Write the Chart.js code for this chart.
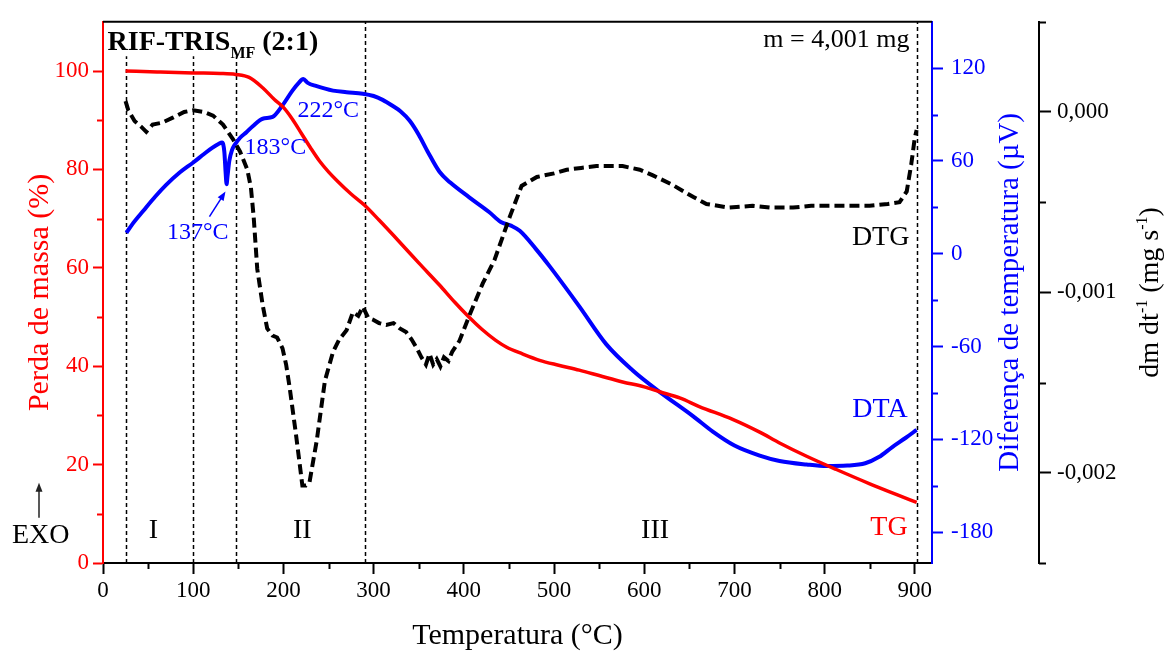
<!DOCTYPE html>
<html lang="pt">
<head>
<meta charset="utf-8">
<title>RIF-TRIS MF (2:1) - TG / DTA / DTG</title>
<script src="https://cdn.jsdelivr.net/npm/chart.js@4.4.1/dist/chart.umd.min.js"></script>
<style>
    html, body { margin: 0; padding: 0; background: #ffffff; }
    #thermoChart { display: block; }
</style>
</head>
<body>
<canvas id="thermoChart" width="1165" height="651"></canvas>
<script>
// TG curve: mass (%) against temperature (°C)
const tgTemp = [25, 60, 100, 130, 147, 162, 177, 190, 200, 210, 220, 230, 240, 250, 260, 275, 290, 306, 330, 350,
    373, 390, 404, 420, 435, 447, 465, 484, 505, 528, 550, 576, 600, 617, 640, 661, 698, 728, 750, 780,
    813, 850, 880, 902];
const tgMass = [100, 99.8, 99.6, 99.5, 99.3, 98.7, 96.6, 94.2, 92.6, 90.2, 87.3, 84.4, 81.7, 79.5, 77.6, 75, 72.7, 69.7, 65, 61,
    56.5, 53, 50.3, 47.5, 45.3, 43.9, 42.5, 41.2, 40.2, 39.2, 38.1, 36.8, 35.8, 34.8, 33.5, 31.8, 29.2, 26.6, 24.4, 21.7,
    19, 16.1, 13.9, 12.3];

// DTA curve: temperature difference (µV)
const dtaTemp = [26, 33, 45, 58, 70, 85, 100, 112, 121, 128, 132, 134.5, 136, 137, 138, 140, 143, 146, 152, 159,
    166, 177, 188, 199, 210, 217, 222, 227, 236, 255, 270, 288, 300, 310, 320, 330, 340, 350, 360, 373,
    385, 406, 428, 441, 453, 462, 480, 495, 528, 558, 587, 617, 654, 676, 700, 728, 750, 780, 802, 825,
    845, 860, 875, 890, 902];
const dtaSignal = [13.5, 19.5, 28, 37, 44.5, 52.5, 59, 64.5, 68.5, 71, 72, 66, 52, 45, 50, 60, 67, 70.4, 75, 78.6,
    82.5, 87.3, 88.5, 96, 105.5, 110.5, 113, 110.5, 108.5, 105.5, 104.5, 103.5, 102, 99.5, 96, 92, 86, 77, 66, 53,
    46, 36.5, 27, 20.5, 18, 14.8, 3, -8, -34, -58.6, -75.3, -89.3, -105, -115, -124, -130.5, -134, -136.3, -137.3, -137,
    -135.5, -131.5, -125, -119, -113.9];

// DTG curve: mass loss rate (mg s-1)
const dtgTemp = [25, 28, 35, 42, 48, 55, 65, 78, 90, 100, 112, 122, 133, 144, 152, 160, 164, 167, 171, 177,
    182, 188, 193, 199, 203, 207, 214, 221, 225, 229, 237, 246, 255, 262, 270, 277, 283, 288, 294, 299,
    306, 314, 322, 329, 336, 342, 348, 353, 358, 362, 366, 370, 374, 378, 383, 387, 395, 406, 421, 434,
    451, 464, 481, 500, 514, 530, 547, 565, 576, 595, 609, 630, 654, 669, 694, 720, 740, 765, 785, 802,
    825, 850, 870, 883, 891, 896, 900, 902];
const dtgRate = [0.00006, 0.00001, -0.00005, -0.00008, -0.00011, -0.00007, -0.00006, -0.00003, 0.0, 0.00001,
    0.0, -0.00002, -0.00007, -0.00015, -0.00022, -0.00032, -0.00042, -0.00058, -0.00087, -0.00107,
    -0.0012, -0.00124, -0.00125, -0.00131, -0.0014, -0.00153, -0.00179, -0.00207, -0.00207, -0.00205,
    -0.00182, -0.00149, -0.00133, -0.00126, -0.00121, -0.00111, -0.00113, -0.00108, -0.00114, -0.00115,
    -0.00117, -0.00118, -0.00117, -0.0012, -0.00122, -0.00126, -0.00131, -0.00136, -0.0014, -0.00134,
    -0.0014, -0.00137, -0.00141, -0.00136, -0.00138, -0.00133, -0.00127, -0.00113, -0.00095, -0.00082,
    -0.00058, -0.00041, -0.00036, -0.00034, -0.00032, -0.00031, -0.0003, -0.0003, -0.0003, -0.00032,
    -0.00035, -0.0004, -0.00047, -0.00051, -0.00053, -0.00052, -0.00053, -0.00053, -0.00052, -0.00052,
    -0.00052, -0.00052, -0.00051, -0.0005, -0.00044, -0.00029, -0.00014, -0.0001];

// stage boundaries (°C) and how high each dashed line reaches (% axis)
const stageBounds = [25, 100, 147, 290, 902];
const stageTops = [103, 103, 103, 110, 110];

// axis ticks
const tempTicks = [0, 100, 200, 300, 400, 500, 600, 700, 800, 900];
const tempMinor = [50, 150, 250, 350, 450, 550, 650, 750, 850];
const massTicks = [0, 20, 40, 60, 80, 100];
const massMinor = [10, 30, 50, 70, 90];
const dtaTicks = [-180, -120, -60, 0, 60, 120];
const dtaMinor = [-150, -90, -30, 30, 90];
const dtgTicks = [-0.002, -0.001, 0];
const dtgMinor = [-0.0025, -0.0015, -0.0005, 0.0005];

const RED = '#ff0000';
const BLUE = '#0000ff';
const BLACK = '#000000';
const serif = "'Liberation Serif', 'Times New Roman', serif";
const tickFont = { family: serif, size: 23 };
const titleFont = { family: serif, size: 30, lineHeight: 1 };

// text placed on the plot, positioned in °C / % units
const notes = [
    { text: '137°C', x: 105, y: 65.8, align: 'center', color: BLUE, size: 24 },
    { text: '183°C', x: 157, y: 83.1, align: 'left', color: BLUE, size: 24 },
    { text: '222°C', x: 215.6, y: 90.7, align: 'left', color: BLUE, size: 24 },
    { text: 'm = 4,001 mg', x: 894, y: 104.8, align: 'right', color: BLACK, size: 26 },
    { text: 'DTG', x: 894, y: 64.6, align: 'right', color: BLACK, size: 28 },
    { text: 'DTA', x: 892, y: 29.6, align: 'right', color: BLUE, size: 28 },
    { text: 'TG', x: 892, y: 5.6, align: 'right', color: RED, size: 28 },
    { text: 'I', x: 56, y: 5, align: 'center', color: BLACK, size: 28 },
    { text: 'II', x: 221, y: 5, align: 'center', color: BLACK, size: 28 },
    { text: 'III', x: 612, y: 5, align: 'center', color: BLACK, size: 28 }
];

function toPoints(xs, ys) {
    return xs.map((x, i) => ({ x: x, y: ys[i] }));
}

function fixedTicks(values) {
    return (scale) => { scale.ticks = values.map(v => ({ value: v })); };
}

function drawArrow(ctx, x0, y0, x1, y1, color) {
    const ang = Math.atan2(y1 - y0, x1 - x0);
    const head = 9;
    ctx.save();
    ctx.strokeStyle = color;
    ctx.fillStyle = color;
    ctx.lineWidth = 1.5;
    ctx.beginPath();
    ctx.moveTo(x0, y0);
    ctx.lineTo(x1 - Math.cos(ang) * head * 0.8, y1 - Math.sin(ang) * head * 0.8);
    ctx.stroke();
    ctx.beginPath();
    ctx.moveTo(x1, y1);
    ctx.lineTo(x1 - head * Math.cos(ang) + 3.5 * Math.sin(ang), y1 - head * Math.sin(ang) - 3.5 * Math.cos(ang));
    ctx.lineTo(x1 - head * Math.cos(ang) - 3.5 * Math.sin(ang), y1 - head * Math.sin(ang) + 3.5 * Math.cos(ang));
    ctx.closePath();
    ctx.fill();
    ctx.restore();
}

// small ticks between the labelled ones
function drawMinorTicks(ctx, scale, values, side, len, color) {
    ctx.save();
    ctx.strokeStyle = color;
    ctx.lineWidth = 2;
    values.forEach(v => {
        const p = Math.round(scale.getPixelForValue(v)) + 0.5;
        ctx.beginPath();
        if (side === 'bottom') {
            ctx.moveTo(p, scale.top);
            ctx.lineTo(p, scale.top + len);
        } else if (side === 'left') {
            ctx.moveTo(scale.right, p);
            ctx.lineTo(scale.right - len, p);
        } else {
            ctx.moveTo(scale.left, p);
            ctx.lineTo(scale.left + len, p);
        }
        ctx.stroke();
    });
    ctx.restore();
}

// rotated (bottom-to-top) title made of normal and superscript pieces
function drawRotatedTitle(ctx, cx, cy, parts, color) {
    ctx.save();
    ctx.translate(cx, cy);
    ctx.rotate(-Math.PI / 2);
    ctx.fillStyle = color;
    ctx.textBaseline = 'alphabetic';
    ctx.textAlign = 'left';
    let total = 0;
    parts.forEach(p => {
        ctx.font = `${p.size}px ${serif}`;
        total += ctx.measureText(p.text).width;
    });
    let x = -total / 2;
    parts.forEach(p => {
        ctx.font = `${p.size}px ${serif}`;
        ctx.fillText(p.text, x, 9 - (p.rise || 0));
        x += ctx.measureText(p.text).width;
    });
    ctx.restore();
}

const decorPlugin = {
    id: 'thermoDecor',
    beforeDatasetsDraw(chart) {
        const { ctx, chartArea, scales } = chart;
        ctx.save();
        ctx.strokeStyle = BLACK;
        ctx.lineWidth = 1.5;
        ctx.setLineDash([4, 3]);
        stageBounds.forEach((t, i) => {
            const x = Math.round(scales.x.getPixelForValue(t)) + 0.5;
            ctx.beginPath();
            ctx.moveTo(x, scales.y.getPixelForValue(0));
            ctx.lineTo(x, Math.max(chartArea.top, scales.y.getPixelForValue(stageTops[i])));
            ctx.stroke();
        });
        ctx.restore();
    },
    afterDraw(chart) {
        const { ctx, chartArea, scales } = chart;
        const xs = scales.x, ys = scales.y;

        // top frame
        ctx.save();
        ctx.strokeStyle = BLACK;
        ctx.lineWidth = 2;
        ctx.beginPath();
        ctx.moveTo(chartArea.left, chartArea.top);
        ctx.lineTo(chartArea.right, chartArea.top);
        ctx.stroke();
        ctx.restore();

        drawMinorTicks(ctx, xs, tempMinor, 'bottom', 6, BLACK);
        drawMinorTicks(ctx, ys, massMinor, 'left', 6, RED);
        drawMinorTicks(ctx, scales.y2, dtaMinor, 'right', 6, BLUE);
        drawMinorTicks(ctx, scales.y3, dtgMinor, 'right', 7, BLACK);

        // plot labels
        ctx.save();
        ctx.textBaseline = 'alphabetic';
        notes.forEach(n => {
            ctx.font = `${n.size}px ${serif}`;
            ctx.fillStyle = n.color;
            ctx.textAlign = n.align;
            ctx.fillText(n.text, xs.getPixelForValue(n.x), ys.getPixelForValue(n.y));
        });

        // sample name with subscript
        let tx = xs.getPixelForValue(5);
        const ty = ys.getPixelForValue(104.2);
        ctx.fillStyle = BLACK;
        ctx.textAlign = 'left';
        ctx.font = `bold 28px ${serif}`;
        ctx.fillText('RIF-TRIS', tx, ty);
        tx += ctx.measureText('RIF-TRIS').width;
        ctx.font = `bold 16px ${serif}`;
        ctx.fillText('MF', tx, ty + 8);
        tx += ctx.measureText('MF').width;
        ctx.font = `bold 28px ${serif}`;
        ctx.fillText(' (2:1)', tx, ty);

        // EXO marker left of the axis
        ctx.font = `28px ${serif}`;
        ctx.fillText('EXO', chartArea.left - 91, ys.getPixelForValue(4));
        ctx.restore();

        drawArrow(ctx, chartArea.left - 64, ys.getPixelForValue(9.2), chartArea.left - 64, ys.getPixelForValue(16.3), '#222222');
        drawArrow(ctx, xs.getPixelForValue(118), ys.getPixelForValue(70.4), xs.getPixelForValue(135.8), ys.getPixelForValue(75.5), BLUE);

        // right-hand axis titles, reading bottom to top
        const midY = (chartArea.top + chartArea.bottom) / 2;
        drawRotatedTitle(ctx, scales.y2.right - 30, midY, [
            { text: 'Diferença de temperatura (µV)', size: 29 }
        ], BLUE);
        drawRotatedTitle(ctx, scales.y3.right - 16, midY, [
            { text: 'dm dt', size: 28 },
            { text: '-1', size: 16, rise: 11 },
            { text: ' (mg s', size: 28 },
            { text: '-1', size: 16, rise: 11 },
            { text: ')', size: 28 }
        ], BLACK);
    }
};

function renderThermoChart() {
    const canvas = document.getElementById('thermoChart');
    if (!canvas) {
        console.warn("'thermoChart' canvas not found");
        return;
    }
    const ctx = canvas.getContext('2d');

    new Chart(ctx, {
        type: 'line',
        data: {
            datasets: [
                {
                    label: 'DTG',
                    data: toPoints(dtgTemp, dtgRate),
                    yAxisID: 'y3',
                    borderColor: BLACK,
                    borderWidth: 4,
                    borderDash: [10, 5],
                    tension: 0,
                    pointRadius: 0
                },
                {
                    label: 'TG',
                    data: toPoints(tgTemp, tgMass),
                    yAxisID: 'y',
                    borderColor: RED,
                    borderWidth: 3.5,
                    cubicInterpolationMode: 'monotone',
                    pointRadius: 0
                },
                {
                    label: 'DTA',
                    data: toPoints(dtaTemp, dtaSignal),
                    yAxisID: 'y2',
                    borderColor: BLUE,
                    borderWidth: 4,
                    cubicInterpolationMode: 'monotone',
                    pointRadius: 0
                }
            ]
        },
        options: {
            responsive: false,
            animation: false,
            layout: { padding: { top: 17, left: 0, right: 0, bottom: 0 } },
            plugins: {
                legend: { display: false },
                tooltip: { enabled: false }
            },
            scales: {
                x: {
                    type: 'linear',
                    position: 'bottom',
                    min: 0,
                    max: 919,
                    afterBuildTicks: fixedTicks(tempTicks),
                    afterFit: (s) => { s.height = 88; },
                    border: { color: BLACK, width: 2 },
                    grid: { drawOnChartArea: false, tickLength: 11, tickColor: BLACK, tickWidth: 2 },
                    ticks: { color: BLACK, font: tickFont, padding: 3, maxRotation: 0, callback: v => String(v) },
                    title: { display: true, text: 'Temperatura (°C)', color: BLACK, font: titleFont, padding: 0 }
                },
                y: {
                    type: 'linear',
                    position: 'left',
                    min: 0,
                    max: 110,
                    afterBuildTicks: fixedTicks(massTicks),
                    afterFit: (s) => { s.width = 103; },
                    border: { color: RED, width: 2 },
                    grid: { drawOnChartArea: false, tickLength: 10, tickColor: RED, tickWidth: 2 },
                    ticks: { color: RED, font: tickFont, padding: 4, callback: v => String(v) },
                    title: { display: true, text: 'Perda de massa (%)', color: RED, font: titleFont, padding: { top: 25 } }
                },
                y2: {
                    type: 'linear',
                    position: 'right',
                    weight: 0,
                    min: -200,
                    max: 150,
                    afterBuildTicks: fixedTicks(dtaTicks),
                    afterFit: (s) => { s.width = 107; },
                    border: { color: BLUE, width: 2 },
                    grid: { drawOnChartArea: false, tickLength: 11, tickColor: BLUE, tickWidth: 2 },
                    ticks: { color: BLUE, font: tickFont, padding: 8, callback: v => String(v) }
                },
                y3: {
                    type: 'linear',
                    position: 'right',
                    weight: 1,
                    min: -0.0025,
                    max: 0.0005,
                    afterBuildTicks: fixedTicks(dtgTicks),
                    afterFit: (s) => { s.width = 126; },
                    border: { color: BLACK, width: 2 },
                    grid: { drawOnChartArea: false, tickLength: 12, tickColor: BLACK, tickWidth: 2 },
                    ticks: {
                        color: BLACK,
                        font: { family: serif, size: 23 },
                        padding: 6,
                        callback: v => v.toFixed(3).replace('.', ',')
                    }
                }
            }
        },
        plugins: [decorPlugin]
    });
}

renderThermoChart();
</script>
</body>
</html>
